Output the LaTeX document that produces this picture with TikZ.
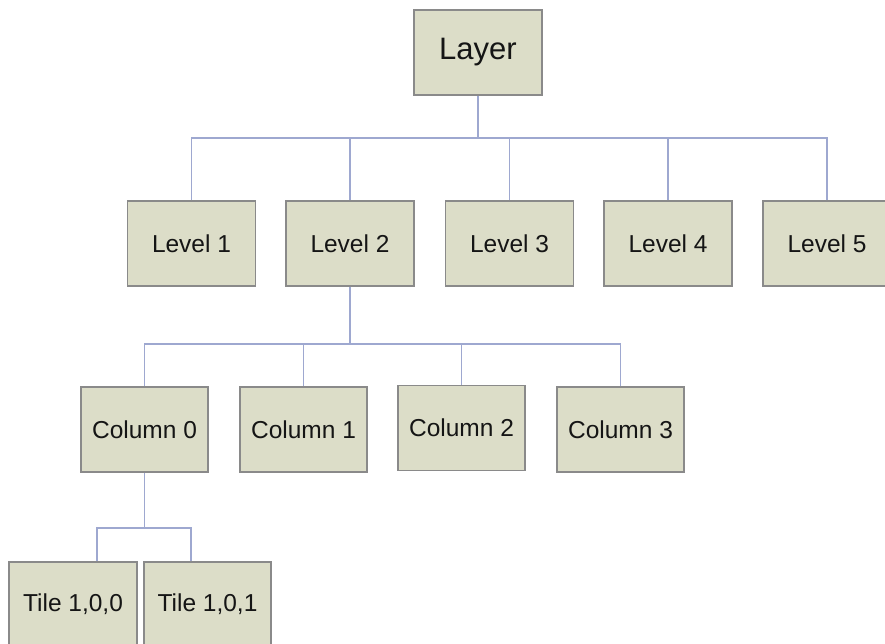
\documentclass[tikz,border=0pt]{standalone}
\usepackage{fontspec}
\setmainfont{Liberation Sans}
\definecolor{boxfill}{HTML}{DCDDC8}
\definecolor{boxline}{HTML}{8A8A8A}
\definecolor{wire}{HTML}{9EA8D0}
\definecolor{ink}{HTML}{151515}
\begin{document}
\begin{tikzpicture}[x=1pt,y=-1pt,
  treebox/.style={rectangle, fill=boxfill, draw=boxline, line width=1.4pt,
    minimum width=128pt, minimum height=85pt, inner sep=0pt,
    text=ink, font=\fontsize{24.5}{28}\selectfont},
  wireline/.style={draw=wire, line width=1.3pt}]
\useasboundingbox (0,0) rectangle (885,643);
\begin{scope}
\clip (0,0) rectangle (885,643);
% root
\node[treebox, font=\fontsize{31}{36}\selectfont] (layer) at (478,52.5) {Layer};
% levels
\node[treebox] (lv1) at (191.5,243.5) {Level 1};
\node[treebox] (lv2) at (350,243.5) {Level 2};
\node[treebox] (lv3) at (509.5,243.5) {Level 3};
\node[treebox] (lv4) at (668,243.5) {Level 4};
\node[treebox] (lv5) at (827,243.5) {Level 5};
% columns of level 2
\node[treebox, minimum width=127pt] (c0) at (144.5,429.5) {Column 0};
\node[treebox, minimum width=127pt] (c1) at (303.5,429.5) {Column 1};
\node[treebox, minimum width=127pt] (c2) at (461.5,428) {Column 2};
\node[treebox, minimum width=127pt] (c3) at (620.5,429.5) {Column 3};
% tiles of column 0
\node[treebox] (t0) at (73,604.5) {Tile 1,0,0};
\node[treebox, minimum width=127pt] (t1) at (207.5,604.5) {Tile 1,0,1};
% bus points
\coordinate (busL) at (478,138);
\coordinate (busC) at (350,344);
\coordinate (busT) at (144.5,528);
% connectors
\draw[wireline] (layer.south) -- (busL);
\foreach \n in {lv1,lv2,lv3,lv4,lv5} \draw[wireline] (\n.north) |- (busL);
\draw[wireline] (lv2.south) -- (busC);
\foreach \n in {c0,c1,c2,c3} \draw[wireline] (\n.north) |- (busC);
\draw[wireline] (c0.south) -- (busT);
\draw[wireline] ([xshift=24pt]t0.north) |- (busT);
\draw[wireline] ([xshift=-16.5pt]t1.north) |- (busT);
\end{scope}
\end{tikzpicture}
\end{document}
